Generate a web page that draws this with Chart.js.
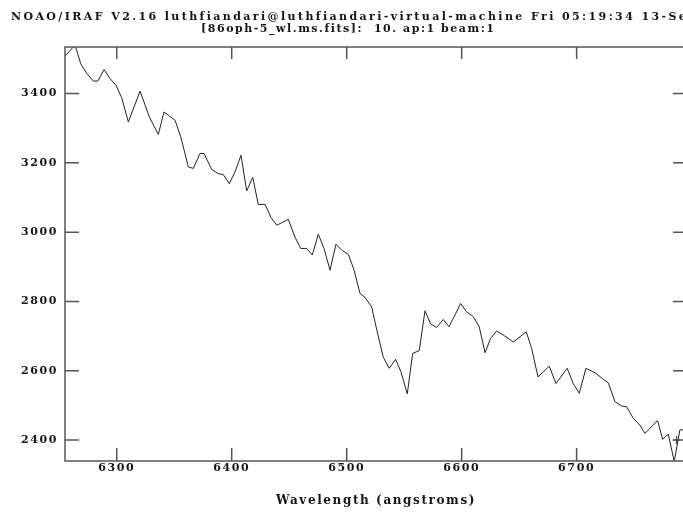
<!DOCTYPE html>
<html><head><meta charset="utf-8">
<script src="https://cdn.jsdelivr.net/npm/chart.js@4"></script>
<style>html,body{margin:0;padding:0;overflow:hidden;background:#fff}
#wrap{width:700px;height:513px;position:relative}</style>
</head><body><div id="wrap"><canvas id="c"></canvas></div>
<script>
const titleLine1 = "NOAO/IRAF V2.16 luthfiandari@luthfiandari-virtual-machine Fri 05:19:34 13-Se";
const titleLine2 = "[86oph-5_wl.ms.fits]:  10. ap:1 beam:1";
const xAxisTitle = "Wavelength (angstroms)";

const wavelengths = [6255.0,6263.7,6268.7,6273.9,6279.7,6283.5,6289.0,6294.2,6299.4,6304.3,6310.1,6320.3,6328.3,6336.2,6341.1,6350.7,6355.7,6362.3,6366.6,6372.4,6375.9,6382.6,6388.3,6392.7,6397.9,6402.9,6408.1,6413.0,6418.3,6423.1,6429.0,6434.2,6439.1,6443.5,6449.2,6455.0,6460.0,6465.2,6470.1,6475.3,6480.3,6485.5,6490.7,6495.7,6501.4,6506.3,6511.6,6515.9,6521.7,6526.6,6531.8,6537.0,6542.6,6547.2,6552.7,6557.4,6563.1,6568.1,6573.0,6578.3,6584.0,6589.0,6594.2,6599.1,6604.3,6610.1,6615.3,6620.3,6625.2,6630.4,6637.6,6644.9,6656.2,6660.9,6666.4,6676.2,6682.0,6691.8,6697.0,6702.3,6708.1,6716.1,6723.3,6727.5,6733.3,6739.1,6743.5,6749.2,6755.0,6759.4,6770.4,6774.8,6779.7,6784.9,6789.8,6796.0];
const flux = [3508,3540,3486,3458,3436,3436,3469,3443,3424,3388,3318,3407,3333,3282,3347,3323,3275,3188,3184,3227,3227,3181,3169,3166,3140,3174,3222,3119,3158,3080,3080,3042,3020,3027,3037,2986,2953,2953,2934,2994,2953,2890,2965,2948,2936,2892,2823,2812,2784,2712,2639,2607,2633,2597,2533,2650,2658,2773,2735,2725,2748,2727,2761,2794,2770,2756,2727,2652,2693,2715,2700,2683,2712,2664,2582,2613,2563,2607,2563,2535,2607,2594,2575,2565,2511,2498,2496,2463,2443,2419,2456,2402,2417,2338,2429,2430];
const cursorX = [6787];
const cursorY = [2400];
const xTicks = [6300,6400,6500,6600,6700];
const yTicks = [2400,2600,2800,3000,3200,3400];
const xRange = [6255, 6796];
const yRange = [2339.4, 3534.4];

const FRAME = '#555';
const INK = '#151515';

function fitText(ctx, text, x0, x1, y) {
  ctx.letterSpacing = '0px';
  const w = ctx.measureText(text).width;
  const s = (x1 - x0 - w) / (text.length - 1);
  ctx.letterSpacing = s + 'px';
  ctx.fillText(text, x0, y);
}

const irafPlugin = {
  id: 'iraf',
  beforeDraw(chart) { chart.ctx.letterSpacing = '1.6px'; },
  afterDatasetsDraw(chart) {
    const {ctx, chartArea: a, scales} = chart;
    ctx.save();
    ctx.strokeStyle = FRAME; ctx.lineWidth = 1.5;
    ctx.strokeRect(a.left, a.top, a.right - a.left, a.bottom - a.top);
    ctx.beginPath();
    xTicks.forEach(v => {
      const px = scales.x.getPixelForValue(v);
      ctx.moveTo(px, a.bottom); ctx.lineTo(px, a.bottom - 13);
      ctx.moveTo(px, a.top); ctx.lineTo(px, a.top + 12);
    });
    yTicks.forEach(v => {
      const py = scales.y.getPixelForValue(v);
      ctx.moveTo(a.left, py); ctx.lineTo(a.left + 14, py);
      ctx.moveTo(a.right, py); ctx.lineTo(a.right - 14, py);
    });
    ctx.stroke();
    ctx.restore();
  },
  afterDraw(chart) {
    const ctx = chart.ctx;
    ctx.save();
    ctx.fillStyle = INK;
    ctx.font = 'bold 11px "DejaVu Serif"';
    ctx.textAlign = 'left'; ctx.textBaseline = 'alphabetic';
    fitText(ctx, titleLine1, 11, 684, 19.5);
    fitText(ctx, titleLine2, 201, 493, 31.5);
    ctx.restore();
  }
};

const tickFont = {family: 'DejaVu Serif', size: 11, weight: 'bold'};
const titleFont = {family: 'DejaVu Serif', size: 12, weight: 'bold'};

new Chart(document.getElementById('c'), {
  type: 'scatter',
  data: {
    datasets: [{
      label: 'spectrum',
      data: wavelengths.map((w, i) => ({x: w, y: flux[i]})),
      showLine: true,
      borderColor: '#222',
      borderWidth: 1,
      pointRadius: 0,
      tension: 0
    }, {
      label: 'cursor',
      data: cursorX.map((w, i) => ({x: w, y: cursorY[i]})),
      pointStyle: 'cross',
      pointRadius: 4,
      borderColor: '#222',
      borderWidth: 1
    }]
  },
  options: {
    responsive: true,
    maintainAspectRatio: false,
    animation: false,
    layout: {padding: {top: 47, right: 13, bottom: 0, left: 0}},
    plugins: {legend: {display: false}, tooltip: {enabled: false}, title: {display: false}},
    scales: {
      x: {
        type: 'linear', min: xRange[0], max: xRange[1],
        afterBuildTicks: s => { s.ticks = xTicks.map(v => ({value: v})); },
        afterFit: s => { s.height = 52; },
        grid: {display: false, drawTicks: false},
        border: {display: false},
        ticks: {font: tickFont, color: INK, padding: 1, maxRotation: 0, callback: v => String(v)},
        title: {display: true, text: xAxisTitle, font: titleFont, color: INK, padding: {top: 0, bottom: 5}}
      },
      y: {
        type: 'linear', min: yRange[0], max: yRange[1],
        afterBuildTicks: s => { s.ticks = yTicks.map(v => ({value: v})); },
        afterFit: s => { s.width = 65; },
        grid: {display: false, drawTicks: false},
        border: {display: false},
        ticks: {font: tickFont, color: INK, padding: 7, callback: v => String(v)}
      }
    }
  },
  plugins: [irafPlugin]
});
</script></body></html>
